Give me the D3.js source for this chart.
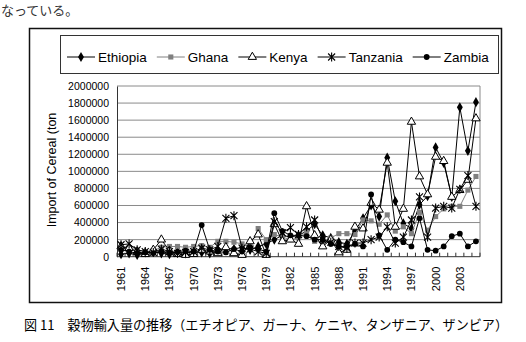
<!DOCTYPE html>
<html>
<head>
<meta charset="utf-8">
<script src="https://d3js.org/d3.v7.min.js"></script>
<style>
  body { margin: 0; background: #fff; }
  svg text { font-family: "Liberation Sans", Arial, sans-serif; fill: #000; }
  svg text.jp { font-family: "Noto Sans CJK JP", sans-serif; }
</style>
</head>
<body>
<div id="chart"></div>
<script>
  // 1961 - 2005
  const years = d3.range(1961, 2006);
  const yTicks = [0, 200000, 400000, 600000, 800000, 1000000, 1200000, 1400000, 1600000, 1800000, 2000000];

  const ethiopia = [30000, 40000, 20000, 50000, 60000, 40000, 30000, 50000, 40000, 60000,
    50000, 40000, 80000, 100000, 90000, 110000, 80000, 120000, 150000,
    200000, 250000, 230000, 250000, 300000, 380000, 250000, 220000, 170000, 150000, 300000, 450000,
    600000, 470000, 1160000, 650000, 390000, 330000, 610000, 710000, 1280000, 1100000, 700000, 1750000, 1240000, 1810000];
  const ghana = [90000, 100000, 80000, 60000, 70000, 110000, 120000, 120000, 110000, 120000,
    130000, 110000, 180000, 180000, 170000, 150000, 120000, 330000, 200000,
    260000, 230000, 200000, 220000, 290000, 180000, 170000, 220000, 270000, 270000, 260000, 430000,
    420000, 380000, 490000, 300000, 350000, 270000, 520000, 310000, 470000, 560000, 590000, 590000, 780000, 940000];
  const kenya = [120000, 100000, 60000, 30000, 80000, 200000, 70000, 30000, 20000, 30000,
    80000, 60000, 40000, 110000, 40000, 20000, 180000, 260000, 20000,
    380000, 180000, 200000, 150000, 590000, 250000, 120000, 200000, 50000, 80000, 350000, 330000,
    630000, 550000, 1100000, 350000, 560000, 1580000, 940000, 730000, 1170000, 1120000, 700000, 780000, 900000, 1620000];
  const tanzania = [140000, 150000, 80000, 60000, 50000, 90000, 60000, 40000, 50000, 60000,
    100000, 80000, 120000, 450000, 480000, 100000, 90000, 60000, 40000,
    410000, 280000, 340000, 260000, 350000, 430000, 200000, 170000, 120000, 100000, 160000, 160000,
    200000, 230000, 350000, 160000, 230000, 430000, 700000, 230000, 570000, 590000, 570000, 790000, 950000, 590000];
  const zambia = [80000, 60000, 40000, 50000, 40000, 60000, 50000, 60000, 70000, 60000,
    370000, 80000, 60000, 50000, 90000, 60000, 110000, 90000, 60000,
    510000, 300000, 250000, 250000, 240000, 200000, 200000, 150000, 120000, 120000, 150000, 120000,
    730000, 250000, 80000, 200000, 170000, 120000, 450000, 80000, 70000, 120000, 240000, 270000, 120000, 180000];

  const seriesNames = ["Ethiopia", "Ghana", "Kenya", "Tanzania", "Zambia"];
  const seriesValues = [ethiopia, ghana, kenya, tanzania, zambia];
  const seriesMarks = ["diamond", "square", "triangle", "star", "circle"];

  const width = 526, height = 342;
  const plotLeft = 117, plotRight = 480, plotTop = 86, plotBottom = 256.7;

  const svg = d3.select("#chart").append("svg")
    .attr("width", width)
    .attr("height", height);

  // text above the figure
  svg.append("text").attr("class", "jp")
    .attr("x", 1).attr("y", 15)
    .attr("font-size", 13).style("fill", "#333")
    .text("なっている。");

  // outer chart frame
  svg.append("rect")
    .attr("x", 29.5).attr("y", 28.5).attr("width", 472).attr("height", 274)
    .attr("fill", "none").attr("stroke", "#111").attr("stroke-width", 1.5);

  const x = d3.scaleBand().domain(years).range([plotLeft, plotRight]);
  const y = d3.scaleLinear().domain([0, 2000000]).range([plotBottom, plotTop]);

  // gridlines
  svg.append("g").selectAll("line")
    .data(yTicks.slice(1))
    .join("line")
    .attr("x1", plotLeft).attr("x2", plotRight)
    .attr("y1", d => y(d)).attr("y2", d => y(d))
    .attr("stroke", "#8a8a8a").attr("stroke-width", 1);

  svg.append("line")
    .attr("x1", plotRight).attr("x2", plotRight).attr("y1", plotTop).attr("y2", plotBottom)
    .attr("stroke", "#8a8a8a");

  // y axis
  const yAxis = svg.append("g")
    .attr("transform", `translate(${plotLeft},0)`)
    .call(d3.axisLeft(y).tickValues(yTicks).tickFormat(d3.format("d")).tickSize(0).tickPadding(8));
  yAxis.select(".domain").attr("stroke", "#333");
  yAxis.selectAll("text").attr("font-size", 10.5).style("font-family", "Liberation Sans, Arial, sans-serif");

  // x axis: ticks between categories pointing up
  const xAxis = svg.append("g")
    .attr("transform", `translate(0,${plotBottom})`);
  xAxis.append("line").attr("x1", plotLeft).attr("x2", plotRight).attr("stroke", "#333");
  xAxis.selectAll(".tk")
    .data(years.concat([2006]))
    .join("line")
    .attr("class", "tk")
    .attr("x1", d => d === 2006 ? plotRight : x(d)).attr("x2", d => d === 2006 ? plotRight : x(d))
    .attr("y1", 0).attr("y2", -4)
    .attr("stroke", "#333");
  xAxis.selectAll(".lb")
    .data(years.filter(d => (d - 1961) % 3 === 0))
    .join("text")
    .attr("class", "lb")
    .attr("transform", d => `translate(${x(d) + x.bandwidth() / 2 + 4},10) rotate(-90)`)
    .attr("text-anchor", "end")
    .attr("font-size", 11)
    .text(d => d);

  // y title
  svg.append("text")
    .attr("transform", "translate(56,170) rotate(-90)")
    .attr("text-anchor", "middle")
    .attr("font-size", 12.5)
    .text("Import of Cereal (ton");

  const cx = (d, i) => x(years[i]) + x.bandwidth() / 2;
  const line = d3.line().x(cx).y(d => y(d));

  function drawMark(g, kind, color) {
    if (kind === "star") {
      g.append("path")
        .attr("d", "M-3.5,-3.5L3.5,3.5M-3.5,3.5L3.5,-3.5M0,-4.5L0,4.5")
        .attr("stroke", color).attr("stroke-width", 1.1).attr("fill", "none");
    } else if (kind === "triangle") {
      g.append("path").attr("d", d3.symbol(d3.symbolTriangle, 30)())
        .attr("fill", "#fff").attr("stroke", color).attr("stroke-width", 1);
    } else if (kind === "diamond") {
      g.append("path").attr("d", d3.symbol(d3.symbolDiamond, 30)()).attr("fill", color);
    } else if (kind === "square") {
      g.append("path").attr("d", d3.symbol(d3.symbolSquare, 26)()).attr("fill", color);
    } else {
      g.append("path").attr("d", d3.symbol(d3.symbolCircle, 26)()).attr("fill", color);
    }
  }

  const colors = ["#000", "#808080", "#000", "#000", "#000"];

  seriesValues.forEach((vals, s) => {
    const g = svg.append("g");
    g.append("path")
      .attr("d", line(vals))
      .attr("fill", "none").attr("stroke", colors[s]).attr("stroke-width", 1);
    vals.forEach((v, i) => {
      const m = g.append("g").attr("transform", `translate(${cx(v, i)},${y(v)})`);
      drawMark(m, seriesMarks[s], colors[s]);
    });
  });

  // legend
  svg.append("rect")
    .attr("x", 60.5).attr("y", 35.5).attr("width", 438).attr("height", 38)
    .attr("fill", "#fff").attr("stroke", "#333").attr("stroke-width", 1);

  let lx = 67;
  seriesNames.forEach((name, s) => {
    const g = svg.append("g").attr("transform", `translate(${lx},57)`);
    g.append("line").attr("x1", 0).attr("x2", 28)
      .attr("stroke", colors[s]).attr("stroke-width", 1);
    drawMark(g.append("g").attr("transform", "translate(14,0)"), seriesMarks[s], colors[s]);
    const t = g.append("text").attr("x", 31).attr("y", 4.5)
      .attr("font-size", 13.5).text(name);
    lx += 31 + t.node().getComputedTextLength() + 10;
  });

  // caption
  svg.append("text").attr("class", "jp")
    .attr("x", 24).attr("y", 330)
    .attr("font-size", 13.5)
    .attr("textLength", 484)
    .attr("lengthAdjust", "spacingAndGlyphs")
    .text("図 11　穀物輸入量の推移（エチオピア、ガーナ、ケニヤ、タンザニア、ザンビア）");
</script>
</body>
</html>
